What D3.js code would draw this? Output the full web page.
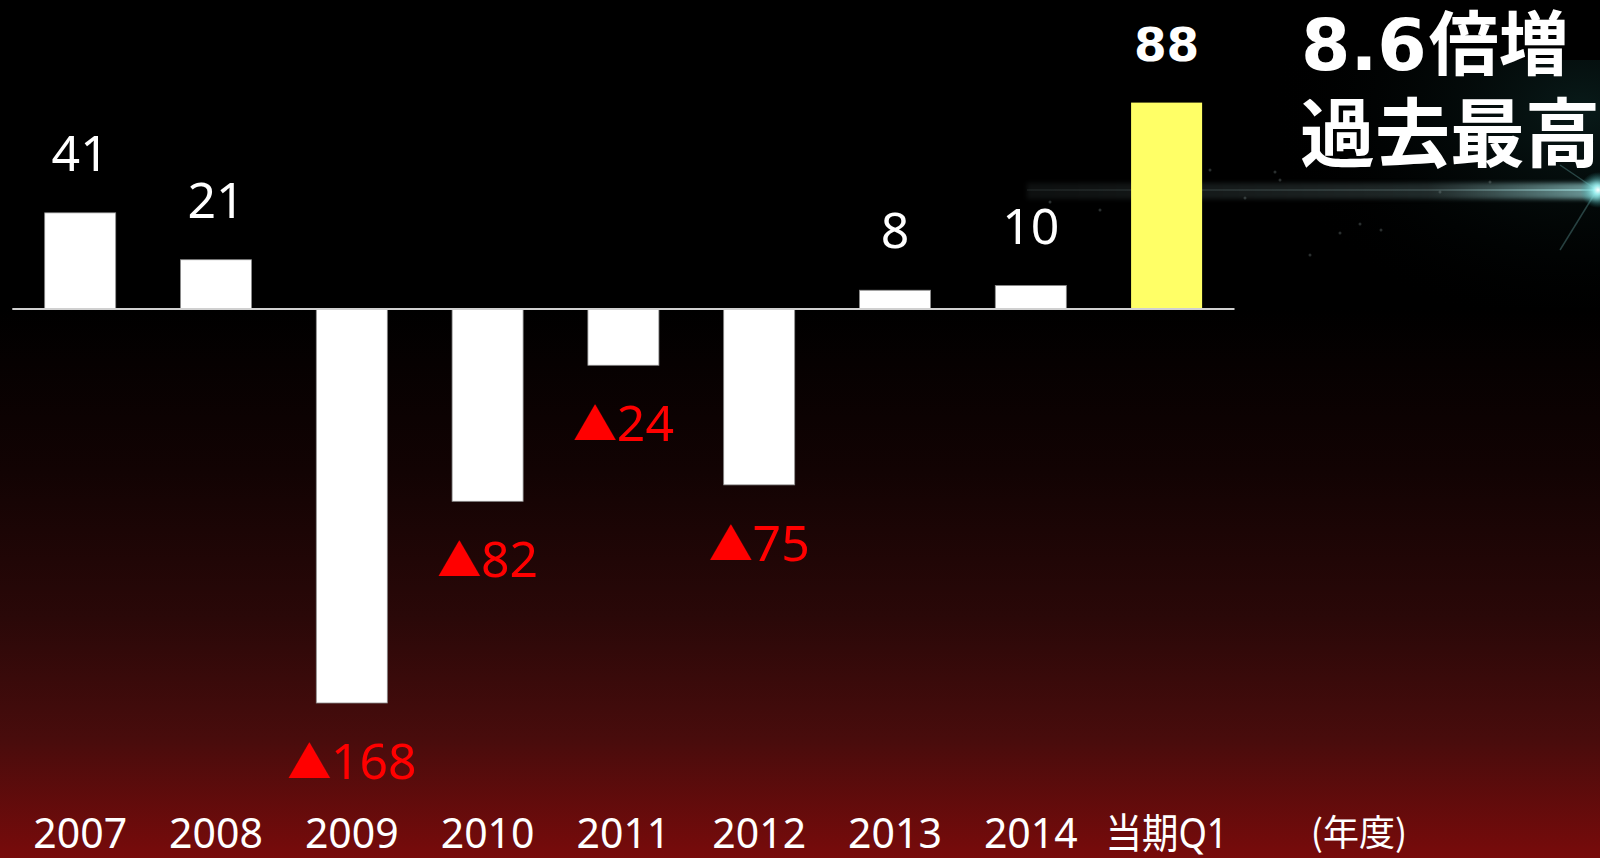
<!DOCTYPE html>
<html>
<head>
<meta charset="utf-8">
<script src="https://cdn.jsdelivr.net/npm/d3@7"></script>
<style>
  html, body { margin: 0; padding: 0; background: #000; overflow: hidden; }
  svg { display: block; }
</style>
</head>
<body>
<svg id="chart" width="1600" height="858"></svg>
<script>
// Operating profit by fiscal year (negative = loss, shown with ▲)
const categories = ["2007", "2008", "2009", "2010", "2011", "2012", "2013", "2014", "当期Q1"];
const values = [41, 21, -168, -82, -24, -75, 8, 10, 88];
const highlight = ["当期Q1"];
const headline = ["8.6", "倍増"];
const subline = "過去最高";
const unitLabel = "(年度)";

const W = 1600, H = 858;
const svg = d3.select("#chart");
const defs = svg.append("defs");

// Background: black top fading into deep red at the bottom
const bg = defs.append("linearGradient").attr("id", "bg")
  .attr("x1", 0).attr("y1", 0).attr("x2", 0).attr("y2", 1);
[[0, "#000000"], [0.36, "#000000"], [0.55, "#120303"], [0.72, "#2a0808"],
 [0.86, "#480c0c"], [1, "#780b0b"]].forEach(([o, c]) =>
  bg.append("stop").attr("offset", o).attr("stop-color", c));
svg.append("rect").attr("width", W).attr("height", H).attr("fill", "url(#bg)");

// Light streak decoration behind the headline
const glow = defs.append("radialGradient").attr("id", "glow")
  .attr("cx", 0.95).attr("cy", 0.2).attr("r", 0.9);
glow.append("stop").attr("offset", 0).attr("stop-color", "#10302e").attr("stop-opacity", 0.55);
glow.append("stop").attr("offset", 1).attr("stop-color", "#000").attr("stop-opacity", 0);
svg.append("rect").attr("x", 1250).attr("y", 60).attr("width", 350).attr("height", 248)
  .attr("fill", "url(#glow)");

const streak = defs.append("linearGradient").attr("id", "streak")
  .attr("x1", 0).attr("y1", 0).attr("x2", 1).attr("y2", 0);
streak.append("stop").attr("offset", 0).attr("stop-color", "#5a6a6a").attr("stop-opacity", 0.15);
streak.append("stop").attr("offset", 0.7).attr("stop-color", "#6a8585").attr("stop-opacity", 0.3);
streak.append("stop").attr("offset", 1).attr("stop-color", "#9fe0e0").attr("stop-opacity", 0.7);
svg.append("rect").attr("x", 1027).attr("y", 183).attr("width", 573).attr("height", 16)
  .attr("fill", "url(#streak)").style("filter", "blur(2px)");
svg.append("rect").attr("x", 1027).attr("y", 189).attr("width", 573).attr("height", 2)
  .attr("fill", "url(#streak)");

const star = defs.append("radialGradient").attr("id", "star");
star.append("stop").attr("offset", 0).attr("stop-color", "#ffffff");
star.append("stop").attr("offset", 0.25).attr("stop-color", "#9ff5f5").attr("stop-opacity", 0.9);
star.append("stop").attr("offset", 1).attr("stop-color", "#30a0a0").attr("stop-opacity", 0);
svg.append("line").attr("x1", 1597).attr("y1", 190).attr("x2", 1560).attr("y2", 250)
  .attr("stroke", "#7fcaca").attr("stroke-opacity", 0.3).attr("stroke-width", 1.5);
svg.append("line").attr("x1", 1597).attr("y1", 190).attr("x2", 1560).attr("y2", 165)
  .attr("stroke", "#7fcaca").attr("stroke-opacity", 0.3).attr("stroke-width", 1.5);
svg.append("circle").attr("cx", 1598).attr("cy", 190).attr("r", 18).attr("fill", "url(#star)");

[[1210, 170], [1245, 198], [1280, 180], [1310, 255], [1340, 233], [1360, 224],
 [1381, 230], [1440, 192], [1490, 182], [1100, 210], [1050, 202], [1275, 172]]
  .forEach(([cx, cy]) => svg.append("circle").attr("cx", cx).attr("cy", cy).attr("r", 1.5)
    .attr("fill", "#8a9a9a").attr("fill-opacity", 0.3));

// Scales
const x = d3.scaleBand().domain(categories).range([12.3, 1234.5])
  .paddingInner(0.477).paddingOuter(0.2385);
const y = d3.scaleLinear().domain([-168, 88]).range([703, 102.6]);

const data = categories.map((c, i) => ({ cat: c, v: values[i] }));

// Bars
svg.append("g").selectAll("rect").data(data).join("rect")
  .attr("x", d => x(d.cat))
  .attr("width", x.bandwidth())
  .attr("y", d => y(Math.max(0, d.v)))
  .attr("height", d => Math.abs(y(d.v) - y(0)))
  .attr("fill", d => highlight.includes(d.cat) ? "#ffff66" : "#ffffff")
  .attr("stroke", d => highlight.includes(d.cat) ? "none" : "#8c8c8c")
  .attr("stroke-width", 0.8);

// Zero line
svg.append("line")
  .attr("x1", x.range()[0]).attr("x2", x.range()[1])
  .attr("y1", y(0)).attr("y2", y(0))
  .attr("stroke", "#d0d0d0").attr("stroke-width", 2);

// Value labels
const labels = svg.append("g").selectAll("text").data(data).join("text")
  .attr("x", d => x(d.cat) + x.bandwidth() / 2)
  .attr("y", d => d.v >= 0 ? y(d.v) - 42 : y(d.v) + 76)
  .attr("text-anchor", "middle");

labels.filter(d => d.v >= 0 && !highlight.includes(d.cat))
  .attr("font-family", "'Noto Sans', sans-serif")
  .attr("font-size", 50).attr("fill", "#ffffff")
  .text(d => d.v);

labels.filter(d => highlight.includes(d.cat))
  .attr("font-family", "'DejaVu Sans', sans-serif")
  .attr("font-weight", "bold")
  .attr("font-size", 47).attr("fill", "#ffffff")
  .text(d => d.v);

const neg = labels.filter(d => d.v < 0).attr("fill", "#ff0000");
neg.append("tspan")
  .attr("font-family", "'Noto Sans CJK JP', sans-serif")
  .attr("font-size", 44)
  .text("▲");
neg.append("tspan")
  .attr("font-family", "'Noto Sans', sans-serif")
  .attr("font-size", 50)
  .text(d => Math.abs(d.v));

// Category axis
const axis = svg.append("g")
  .attr("transform", `translate(0, 808)`)
  .call(d3.axisBottom(x).tickSize(0).tickPadding(0));
axis.select(".domain").remove();
axis.selectAll(".tick text")
  .attr("y", 40)
  .attr("dy", null)
  .attr("fill", "#ffffff")
  .attr("font-family", "'Noto Sans', 'Noto Sans CJK JP', sans-serif")
  .attr("font-size", 41)
  .each(function (d) {
    if (/[^\x00-\x7F]/.test(d)) {
      d3.select(this).attr("textLength", x.step() * 0.9)
        .attr("lengthAdjust", "spacingAndGlyphs");
    }
  });

svg.append("text")
  .attr("x", 1359).attr("y", 846)
  .attr("text-anchor", "middle")
  .attr("fill", "#ffffff")
  .attr("font-family", "'Noto Sans CJK JP', sans-serif")
  .attr("font-size", 36)
  .text(unitLabel);

// Headline
const h1 = svg.append("text")
  .attr("x", 1301).attr("y", 70)
  .attr("fill", "#ffffff").attr("font-weight", "bold");
h1.append("tspan")
  .attr("font-family", "'DejaVu Sans', sans-serif")
  .attr("font-size", 71)
  .text(headline[0]);
h1.append("tspan")
  .attr("font-family", "'Noto Sans CJK JP', sans-serif")
  .attr("font-size", 70)
  .attr("dx", 2)
  .text(headline[1]);

svg.append("text")
  .attr("x", 1300).attr("y", 161)
  .attr("fill", "#ffffff").attr("font-weight", "bold")
  .attr("font-family", "'Noto Sans CJK JP', sans-serif")
  .attr("font-size", 75)
  .text(subline);
</script>
</body>
</html>
